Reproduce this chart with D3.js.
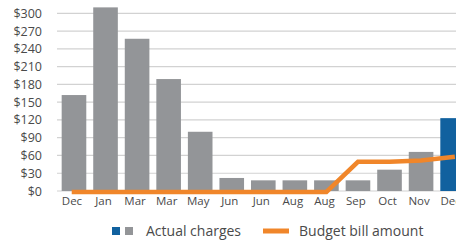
<!DOCTYPE html>
<html><head><meta charset="utf-8">
<script src="https://cdn.jsdelivr.net/npm/d3@7"></script>
<style>body{margin:0;background:#fff}svg{display:block}</style>
</head><body><svg id="c" width="456" height="241"></svg>
<script>
const months = ["Dec","Jan","Mar","Mar","May","Jun","Jun","Aug","Aug","Sep","Oct","Nov","Dec"];
const actual = [162, 310, 257, 189, 100, 22, 18, 18, 18, 18, 36, 66, 123];
const budget = [0, 0, 0, 0, 0, 0, 0, 0, 0, 51, 51, 53, 59];
const yTicks = [0, 30, 60, 90, 120, 150, 180, 210, 240, 270, 300];
const legendLabels = ["Actual charges", "Budget bill amount"];

const svg = d3.select("#c");
const font = "'Open Sans', sans-serif";
const textColor = "#4a4a4a";
const gray = "#939598", blue = "#11619f", orange = "#f0862a";

const x = d3.scaleBand().domain(d3.range(months.length)).range([58.2, 468.4]).paddingInner(0.22).paddingOuter(0.11);
const y = d3.scaleLinear().domain([0, 300]).range([191, 13.3]);

// gridlines
svg.append("g").selectAll("line").data(yTicks).join("line")
  .attr("x1", 57).attr("x2", 456)
  .attr("y1", d => y(d)).attr("y2", d => y(d))
  .attr("stroke", "#d2d2d2").attr("stroke-width", 1.2);

// y axis labels
const yAxis = d3.axisLeft(y).tickValues(yTicks).tickFormat(d => "$" + d).tickSize(0).tickPadding(0);
const gy = svg.append("g").attr("transform", "translate(42,0)").call(yAxis);
gy.select(".domain").remove();
gy.selectAll("text").attr("font-family", font).attr("font-size", 12.5).attr("fill", textColor);

// bars
svg.append("g").selectAll("rect").data(actual).join("rect")
  .attr("x", (d, i) => x(i)).attr("width", x.bandwidth())
  .attr("y", d => y(d)).attr("height", d => y(0) - y(d))
  .attr("fill", (d, i) => i === actual.length - 1 ? blue : gray);

// x axis labels
const xAxis = d3.axisBottom(x).tickFormat(i => months[i]).tickSize(0).tickPadding(0);
const gx = svg.append("g").attr("transform", "translate(-2,197)").call(xAxis);
gx.select(".domain").remove();
gx.selectAll("text").attr("font-family", font).attr("font-size", 11.5).attr("fill", textColor);

// budget line
const line = d3.line().x((d, i) => x(i) + x.bandwidth() / 2).y(d => y(d) + 1);
svg.append("path").datum(budget).attr("d", line)
  .attr("fill", "none").attr("stroke", orange).attr("stroke-width", 4.5)
  .attr("stroke-linecap", "square").attr("stroke-linejoin", "miter");

// legend
const lg = svg.append("g");
lg.append("rect").attr("x", 112).attr("y", 227).attr("width", 8).attr("height", 8).attr("fill", blue);
lg.append("rect").attr("x", 125).attr("y", 227).attr("width", 8).attr("height", 8).attr("fill", gray);
lg.append("text").attr("x", 146).attr("y", 236).text(legendLabels[0])
  .attr("font-family", font).attr("font-size", 14).attr("fill", textColor);
lg.append("line").attr("x1", 263).attr("x2", 289).attr("y1", 231).attr("y2", 231)
  .attr("stroke", orange).attr("stroke-width", 5);
lg.append("text").attr("x", 299).attr("y", 236).text(legendLabels[1])
  .attr("font-family", font).attr("font-size", 14).attr("fill", textColor);
</script></body></html>
